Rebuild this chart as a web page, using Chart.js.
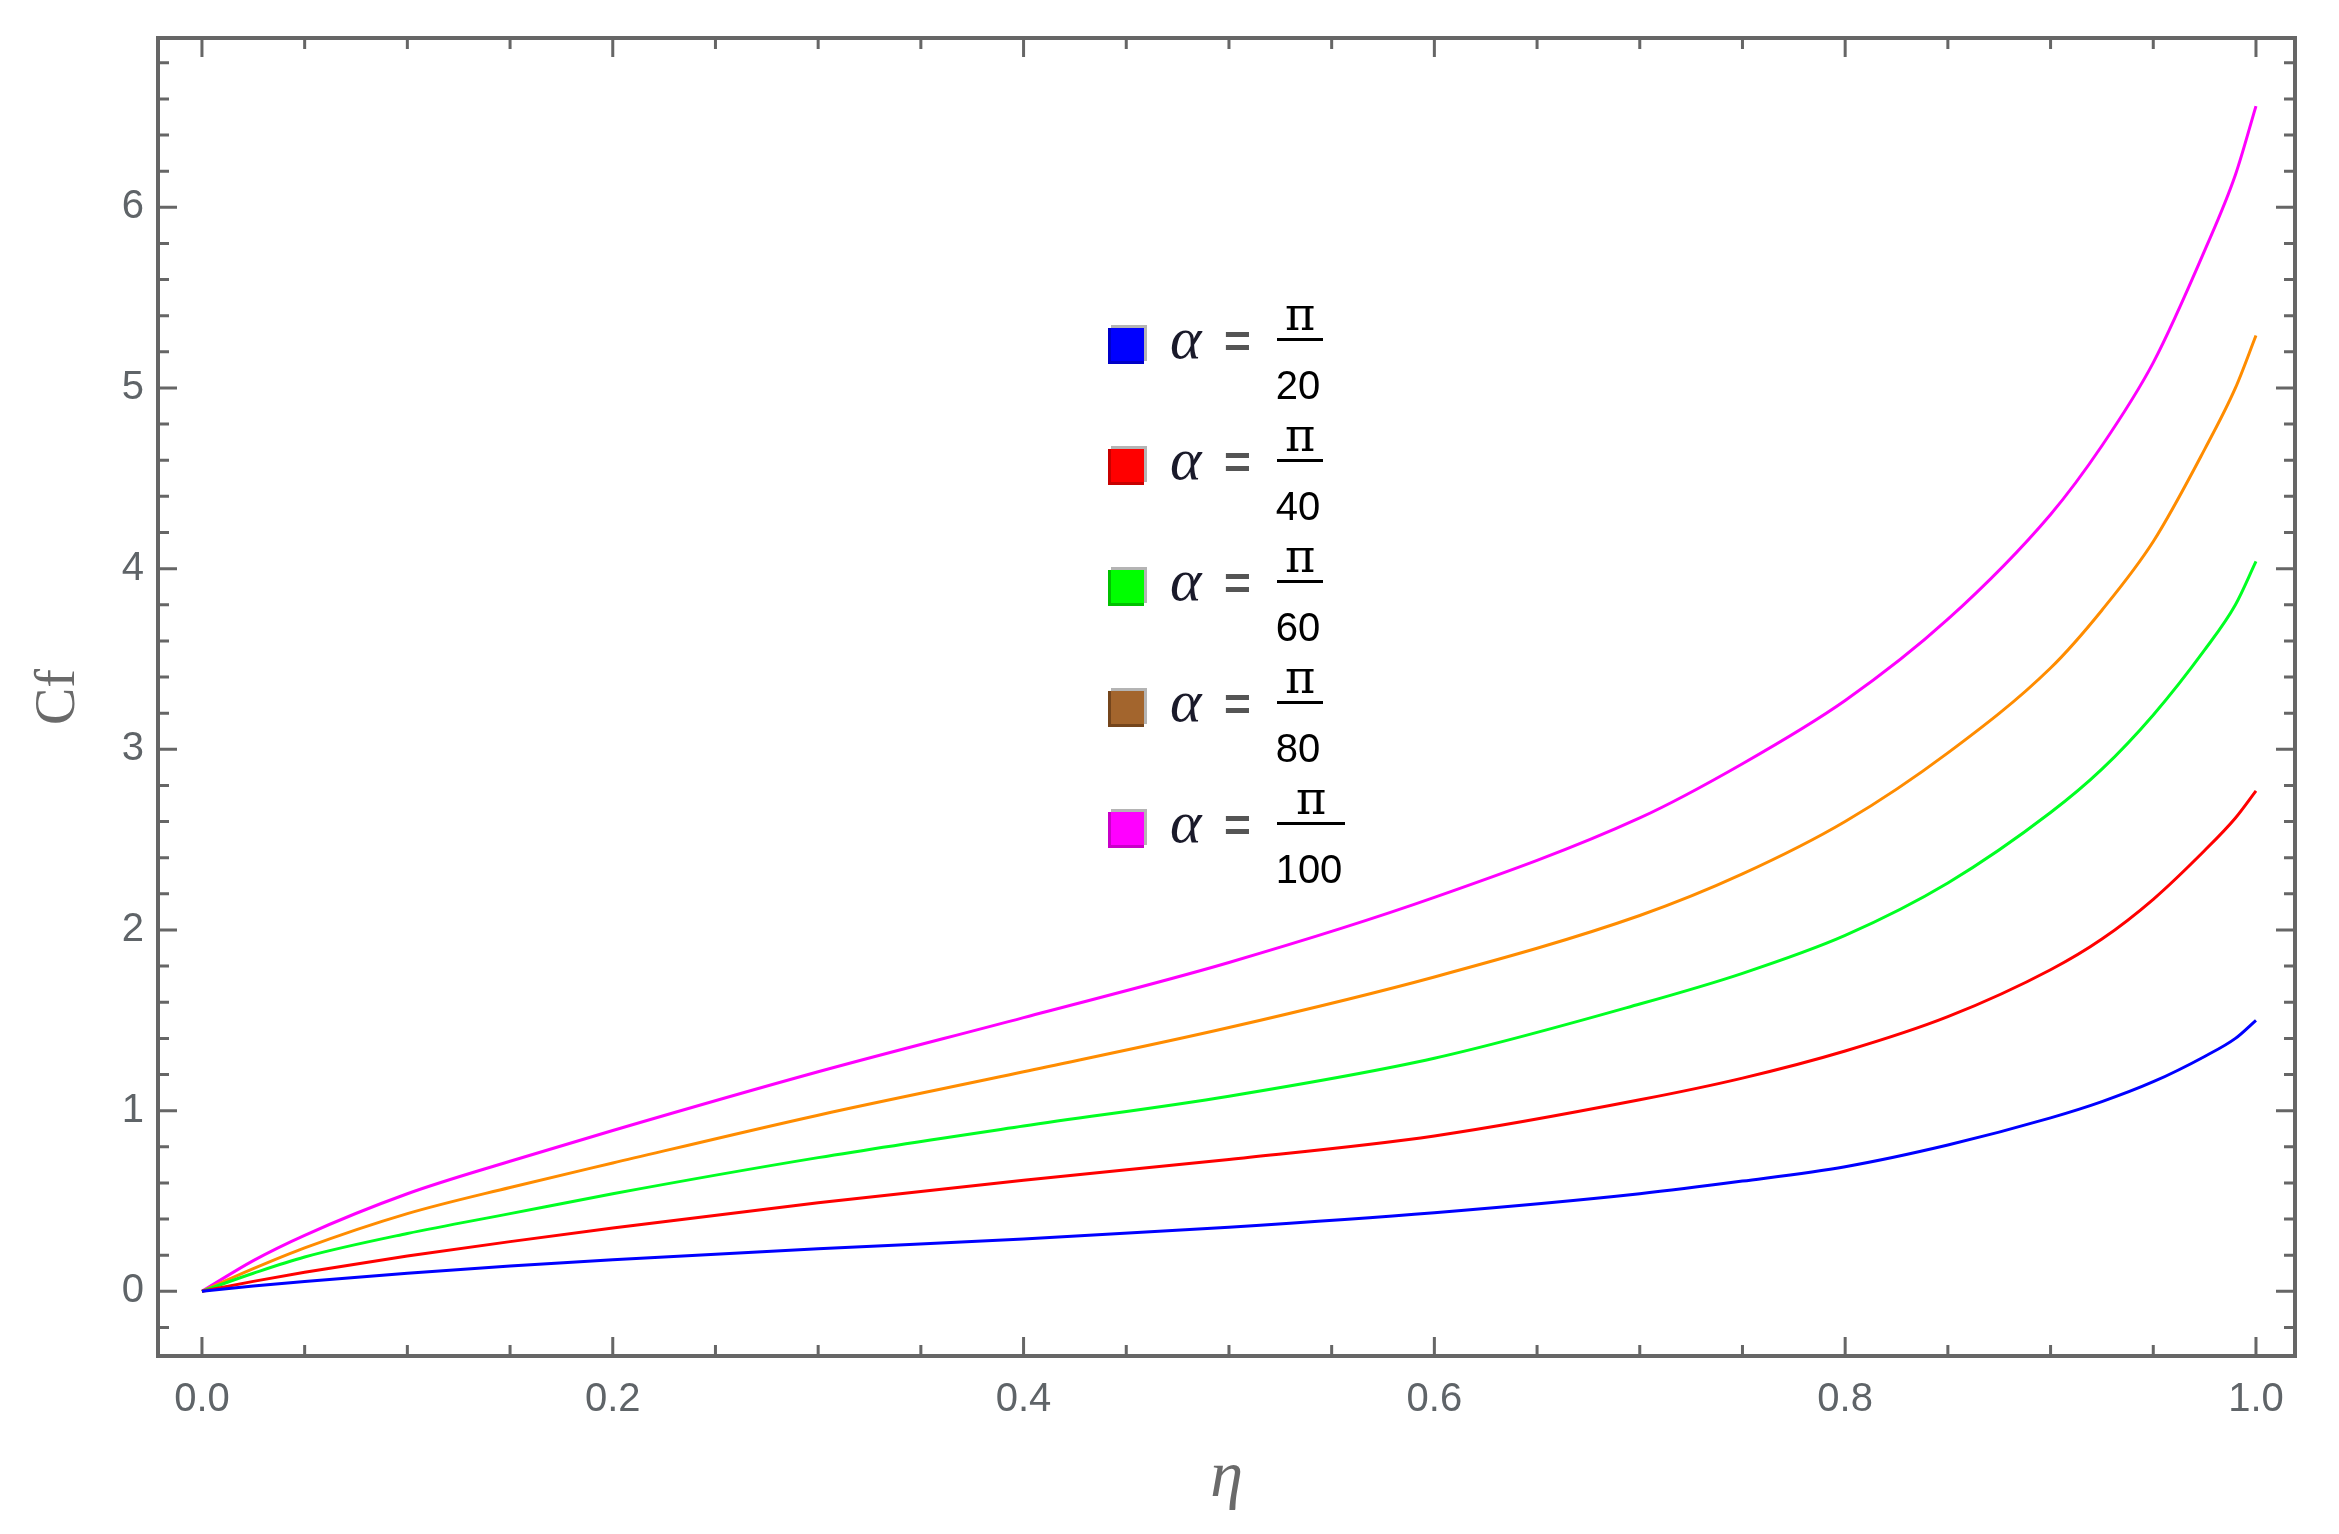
<!DOCTYPE html>
<html>
<head>
<meta charset="utf-8">
<script src="https://cdn.jsdelivr.net/npm/chart.js@4.4.1/dist/chart.umd.min.js"></script>
<style>
  html, body { margin: 0; padding: 0; background: #fff; }
  canvas { display: block; }
</style>
</head>
<body>
<canvas id="cf" width="2339" height="1534"></canvas>
<script>
// eta samples and Cf values
const eta = [0, 0.025, 0.05, 0.1, 0.15, 0.2, 0.3, 0.4, 0.5, 0.6, 0.7, 0.75, 0.8, 0.85, 0.9, 0.925, 0.95, 0.975, 0.99, 1.0];
const cfPi20  = [0, 0.03, 0.055, 0.10, 0.14, 0.175, 0.235, 0.29, 0.355, 0.435, 0.54, 0.61, 0.69, 0.81, 0.96, 1.05, 1.16, 1.30, 1.40, 1.50];
const cfPi40  = [0, 0.055, 0.105, 0.195, 0.275, 0.35, 0.49, 0.615, 0.73, 0.86, 1.06, 1.18, 1.33, 1.52, 1.78, 1.95, 2.17, 2.44, 2.62, 2.77];
const cfPi60  = [0, 0.10, 0.19, 0.32, 0.43, 0.54, 0.74, 0.915, 1.08, 1.29, 1.59, 1.76, 1.97, 2.26, 2.65, 2.89, 3.19, 3.55, 3.80, 4.04];
const cfPi80  = [0, 0.125, 0.24, 0.43, 0.575, 0.71, 0.975, 1.215, 1.46, 1.74, 2.08, 2.31, 2.60, 2.98, 3.45, 3.77, 4.15, 4.66, 5.00, 5.29];
const cfPi100 = [0, 0.17, 0.31, 0.54, 0.72, 0.89, 1.215, 1.515, 1.82, 2.18, 2.62, 2.92, 3.27, 3.72, 4.30, 4.68, 5.14, 5.76, 6.18, 6.56];

const denominators = ['20', '40', '60', '80', '100'];
const lineColors = ['#0000ff', '#ff0000', '#00ff22', '#ff8c00', '#ff00ff'];
const swatchColors = ['#0000ff', '#ff0000', '#00ff00', '#a3652d', '#ff00ff'];
const swatchEdges = ['#0000c8', '#c80000', '#00c000', '#74451c', '#c800c8'];

const xTickValues = [0, 0.2, 0.4, 0.6, 0.8, 1.0];
const yTickValues = [0, 1, 2, 3, 4, 5, 6];

const AXIS_COLOR = '#666666';
const LABEL_COLOR = '#5f6468';

const series = [cfPi20, cfPi40, cfPi60, cfPi80, cfPi100];

const frameAndLegend = {
  id: 'frameAndLegend',
  afterDraw(chart) {
    const { ctx, chartArea: a, scales: { x, y } } = chart;
    ctx.save();

    // inward ticks on all four sides
    ctx.strokeStyle = AXIS_COLOR;
    ctx.lineWidth = 3;
    ctx.beginPath();
    for (let i = 0; i <= 20; i++) {
      const px = x.getPixelForValue(i * 0.05);
      const len = i % 4 === 0 ? 19 : 11;
      ctx.moveTo(px, a.bottom); ctx.lineTo(px, a.bottom - len);
      ctx.moveTo(px, a.top); ctx.lineTo(px, a.top + len);
    }
    for (let i = -1; i <= 34; i++) {
      const py = y.getPixelForValue(i * 0.2);
      const len = i % 5 === 0 ? 19 : 11;
      ctx.moveTo(a.left, py); ctx.lineTo(a.left + len, py);
      ctx.moveTo(a.right, py); ctx.lineTo(a.right - len, py);
    }
    ctx.stroke();

    ctx.lineWidth = 4;
    ctx.strokeRect(a.left, a.top, a.right - a.left, a.bottom - a.top);

    // legend: swatch, alpha = pi / n
    const left = 1108;
    denominators.forEach((den, i) => {
      const cy = 344 + i * 121;
      ctx.fillStyle = '#b4b4b4';
      ctx.fillRect(left + 3, cy - 19, 36, 36);
      ctx.fillStyle = swatchEdges[i];
      ctx.fillRect(left, cy - 16, 36, 36);
      ctx.fillStyle = swatchColors[i];
      ctx.fillRect(left + 3, cy - 16, 33, 33);

      ctx.fillStyle = '#1a1a2a';
      ctx.textBaseline = 'middle';
      ctx.textAlign = 'left';
      ctx.font = 'italic 60px "Liberation Serif"';
      ctx.fillText('α', 1170, cy - 2);

      ctx.fillStyle = '#555555';
      ctx.font = 'bold 46px "Liberation Sans"';
      ctx.fillText('=', 1224, cy);

      const barW = den.length === 3 ? 68 : 46;
      const cx = 1277 + barW / 2;
      ctx.fillStyle = '#000000';
      ctx.fillRect(1277, cy - 6, barW, 3);

      ctx.textAlign = 'center';
      ctx.font = '46px "DejaVu Serif"';
      ctx.fillText('π', cx, cy - 26);
      ctx.font = '40px "Liberation Sans"';
      ctx.fillText(den, cx - 2, cy + 44);
    });

    ctx.restore();
  }
};

new Chart(document.getElementById('cf'), {
  type: 'line',
  data: {
    datasets: series.map((vals, i) => ({
      label: 'α = π/' + denominators[i],
      data: eta.map((e, k) => ({ x: e, y: vals[k] })),
      borderColor: lineColors[i],
      borderWidth: 3,
      pointRadius: 0,
      fill: false,
      cubicInterpolationMode: 'monotone'
    }))
  },
  options: {
    responsive: false,
    animation: false,
    layout: { padding: { top: 32, right: 44, left: 0, bottom: 0 } },
    plugins: { legend: { display: false }, tooltip: { enabled: false } },
    scales: {
      x: {
        type: 'linear',
        min: -0.0214,
        max: 1.019,
        afterBuildTicks: s => { s.ticks = xTickValues.map(v => ({ value: v })); },
        afterFit: s => { s.height = 178; },
        grid: { display: false, drawTicks: false },
        border: { display: false },
        ticks: {
          autoSkip: false,
          maxRotation: 0,
          padding: 20,
          color: LABEL_COLOR,
          font: { family: 'Liberation Sans', size: 40 },
          callback: v => Number(v).toFixed(1)
        },
        title: {
          display: true,
          text: 'η',
          color: '#6a6a6a',
          font: { family: 'Liberation Serif', style: 'italic', size: 66 },
          padding: { top: 0, bottom: 16 }
        }
      },
      y: {
        type: 'linear',
        min: -0.358,
        max: 6.937,
        afterBuildTicks: s => { s.ticks = yTickValues.map(v => ({ value: v })); },
        afterFit: s => { s.width = 158; },
        grid: { display: false, drawTicks: false },
        border: { display: false },
        ticks: {
          padding: 14,
          color: LABEL_COLOR,
          font: { family: 'Liberation Sans', size: 40 },
          callback: v => String(v)
        },
        title: {
          display: true,
          text: 'Cf',
          color: '#6a6a6a',
          font: { family: 'Liberation Serif', size: 56 },
          padding: { top: 26, bottom: 0 }
        }
      }
    }
  },
  plugins: [frameAndLegend]
});
</script>
</body>
</html>
